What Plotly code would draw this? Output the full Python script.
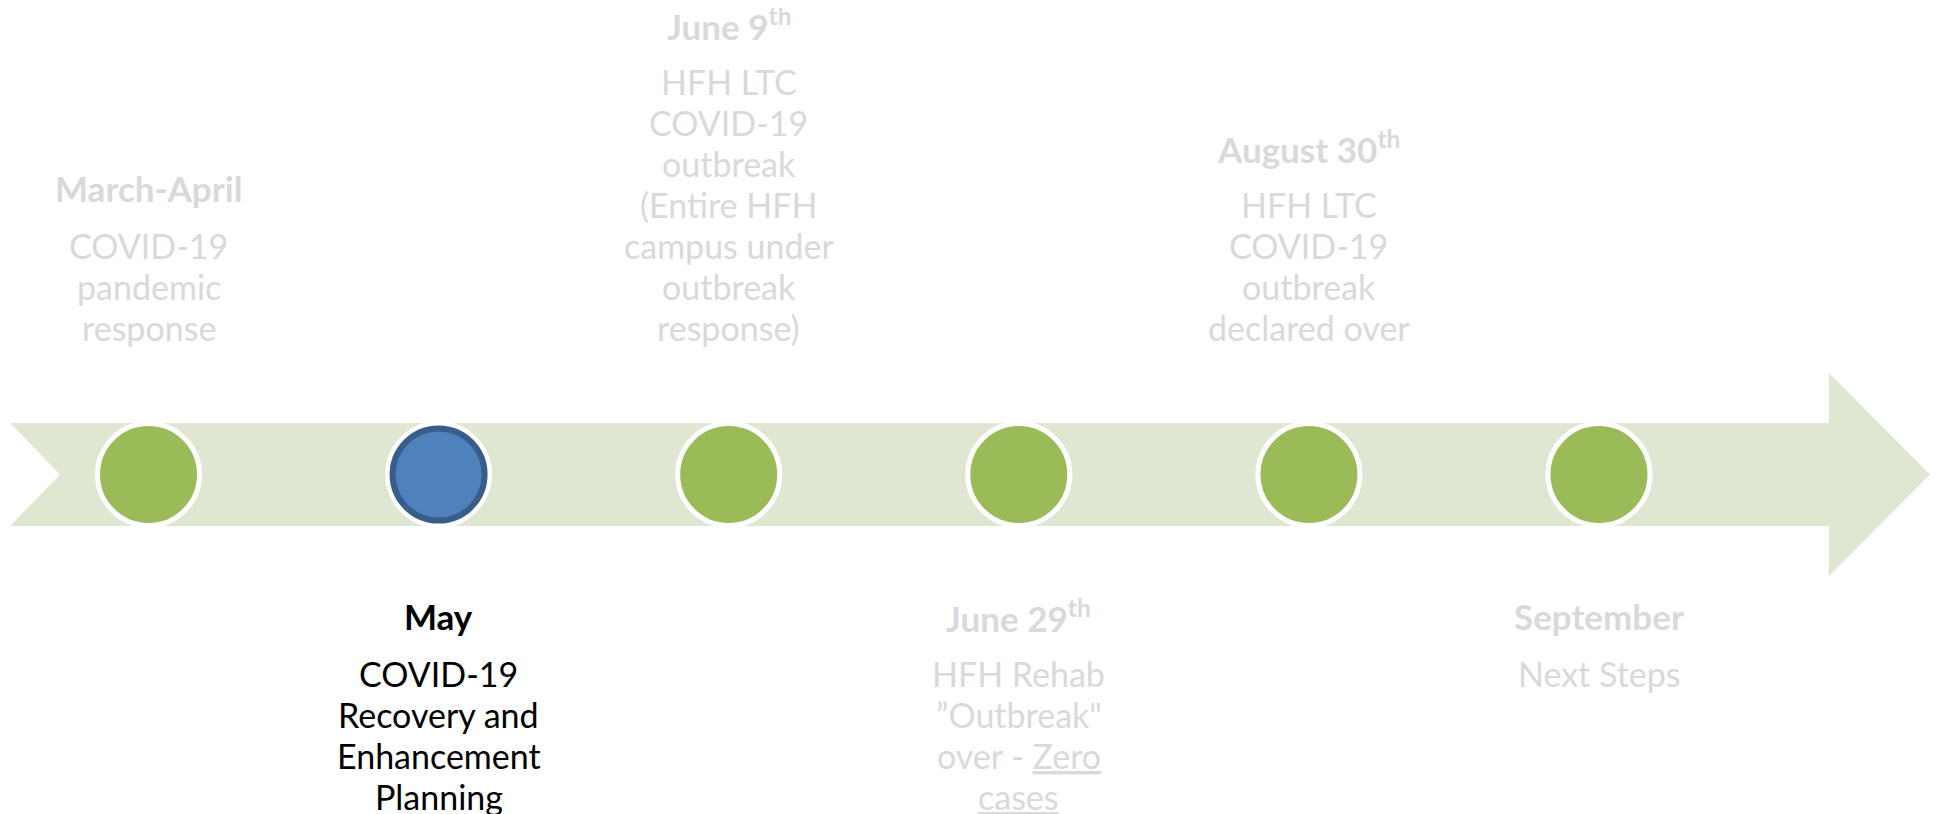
import plotly.graph_objects as go

# ---------------- data ----------------
milestones = ["March-April", "May", "June 9<sup>th</sup>", "June 29<sup>th</sup>",
              "August 30<sup>th</sup>", "September"]
descriptions = [
    ["COVID-19", "pandemic", "response"],
    ["COVID-19", "Recovery and", "Enhancement", "Planning"],
    ["HFH LTC", "COVID-19", "outbreak", "(Entire HFH", "campus under", "outbreak", "response)"],
    ["HFH Rehab", "\u201dOutbreak\"", "over - <u>Zero</u>", "<u>cases</u>"],
    ["HFH LTC", "COVID-19", "outbreak", "declared over"],
    ["Next Steps"],
]
side = ["above", "below", "above", "below", "above", "below"]
current = "May"

# ---------------- style ----------------
PAGE_W, PAGE_H = 1939, 814
OFF = 8                          # default page margin of the html body
W, H = PAGE_W - OFF, PAGE_H - OFF
X0, DX = 148.5 - OFF, 290.1      # figure-pixel centre of first milestone, spacing
YC = 474.5 - OFF                 # figure-pixel row of the timeline
FONT = "Lato, 'Open Sans', sans-serif"
FS = 34
FS_HEAD = 35
LINE = 41
GREY = "#d9d9d9"
BAND = "#dfe7d3"
GREEN = "#9bbb59"
BLUE = "#4f81bd"
BLUE_EDGE = "#385d8a"

idx = list(range(len(milestones)))
fig = go.Figure()


def px2x(p):
    """page pixel column -> axis units"""
    return (p - OFF - X0) / DX


# arrow band (decorative)
bx0, notch, hx, tip = px2x(10), px2x(60), px2x(1829), px2x(1930)
hb, hh = 51.5, 101.5
path = (f"M {bx0},{hb} L {hx},{hb} L {hx},{hh} L {tip},0 L {hx},{-hh} "
        f"L {hx},{-hb} L {bx0},{-hb} L {notch},0 Z")
fig.add_shape(type="path", path=path, fillcolor=BAND, line=dict(width=0), layer="below")

is_cur = [m == current for m in milestones]
gx = [i for i, c in zip(idx, is_cur) if not c]
cx = [i for i, c in zip(idx, is_cur) if c]

fig.add_trace(go.Scatter(x=gx, y=[0] * len(gx), mode="markers",
                         marker=dict(size=102, color=GREEN, line=dict(color="white", width=5)),
                         hoverinfo="skip", showlegend=False))
fig.add_trace(go.Scatter(x=cx, y=[0] * len(cx), mode="markers",
                         marker=dict(size=107, color="white", line=dict(width=0)),
                         hoverinfo="skip", showlegend=False))
fig.add_trace(go.Scatter(x=cx, y=[0] * len(cx), mode="markers",
                         marker=dict(size=92, color=BLUE, line=dict(color=BLUE_EDGE, width=6)),
                         hoverinfo="skip", showlegend=False))

# text (offsets in pixels from the timeline)
TOP_LAST = 474.5 - 327     # last body line above timeline
BOT_HEAD = 474.5 - 616     # header below timeline
GAP = 57
for i, (m, lines, s, c) in enumerate(zip(milestones, descriptions, side, is_cur)):
    col = "black" if c else GREY
    if s == "above":
        ys = [TOP_LAST + LINE * (len(lines) - 1 - k) for k in range(len(lines))]
        yh = ys[0] + GAP
    else:
        yh = BOT_HEAD
        ys = [yh - GAP - LINE * k for k in range(len(lines))]
    fig.add_annotation(x=i, y=yh, text=f"<b>{m}</b>", showarrow=False,
                       xanchor="center", yanchor="middle",
                       font=dict(family=FONT, size=FS_HEAD, color=col))
    for ln, y in zip(lines, ys):
        fig.add_annotation(x=i, y=y, text=ln, showarrow=False,
                           xanchor="center", yanchor="middle",
                           font=dict(family=FONT, size=FS, color=col))

fig.update_layout(
    width=W, height=H, margin=dict(l=0, r=0, t=0, b=0),
    paper_bgcolor="white", plot_bgcolor="white",
    xaxis=dict(range=[px2x(OFF), px2x(PAGE_W)], visible=False, fixedrange=True),
    yaxis=dict(range=[YC - H, YC], visible=False, fixedrange=True),
    showlegend=False,
)
fig.write_html("out.html")
